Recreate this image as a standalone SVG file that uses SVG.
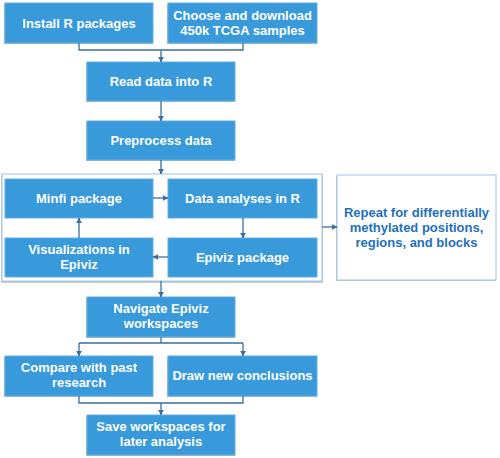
<svg xmlns="http://www.w3.org/2000/svg" width="500" height="458" viewBox="0 0 500 458">
<defs>
<marker id="ah" viewBox="0 0 10 10" refX="9" refY="5" markerWidth="6" markerHeight="6" markerUnits="userSpaceOnUse" orient="auto"><path d="M0,0 L10,5 L0,10 z" fill="#3a6f9e"/></marker>
</defs>
<style>
.box{fill:#3899db;stroke:#62aee3;stroke-width:1}
.sh{fill:#b8bcc0}
.t{font-family:"Liberation Sans",Arial,sans-serif;font-weight:bold;font-size:13px;fill:#ffffff;text-anchor:middle}
.tb{font-family:"Liberation Sans",Arial,sans-serif;font-weight:bold;font-size:13px;fill:#1f70c1;text-anchor:middle}
.c{fill:none;stroke:#3a6f9e;stroke-width:1.3}
.cm{fill:none;stroke:#3a6f9e;stroke-width:1.3;marker-end:url(#ah)}
</style>
<rect width="500" height="458" fill="#ffffff"/>
<g id="container">
<rect x="1" y="175" width="322" height="108" fill="#c8ccd0"/>
<rect x="2" y="174" width="320" height="107" fill="#ffffff" stroke="#9dc3e6" stroke-width="1"/>
</g>
<g id="n1"><rect class="sh" x="4" y="4" width="149" height="40"/><rect class="box" x="5" y="3" width="148" height="40"/><text class="t" x="79" y="27.5">Install R packages</text></g>
<g id="n2"><rect class="sh" x="167" y="4" width="150" height="40"/><rect class="box" x="168" y="3" width="149" height="40"/><text class="t" x="242.5" y="20">Choose and download</text><text class="t" x="242.5" y="35">450k TCGA samples</text></g>
<g id="n3"><rect class="sh" x="86" y="63" width="149" height="39"/><rect class="box" x="87" y="62" width="148" height="39"/><text class="t" x="161" y="86">Read data into R</text></g>
<g id="n4"><rect class="sh" x="86" y="122" width="149" height="39"/><rect class="box" x="87" y="121" width="148" height="39"/><text class="t" x="161" y="145">Preprocess data</text></g>
<g id="n5"><rect class="box" x="5" y="179" width="148" height="39"/><text class="t" x="79" y="202.5">Minfi package</text></g>
<g id="n6"><rect class="box" x="168" y="179" width="149" height="39"/><text class="t" x="242.5" y="202.5">Data analyses in R</text></g>
<g id="n7"><rect class="box" x="5" y="238" width="148" height="39"/><text class="t" x="79" y="254">Visualizations in</text><text class="t" x="79" y="269">Epiviz</text></g>
<g id="n8"><rect class="box" x="168" y="238" width="149" height="39"/><text class="t" x="242.5" y="261.5">Epiviz package</text></g>
<g id="n9"><rect x="336" y="176" width="160" height="105" fill="#c8ccd0"/><rect x="337" y="175" width="159" height="105" fill="#ffffff" stroke="#9dc3e6" stroke-width="1"/><text class="tb" x="416.5" y="217">Repeat for differentially</text><text class="tb" x="416.5" y="232">methylated positions,</text><text class="tb" x="416.5" y="247">regions, and blocks</text></g>
<g id="n10"><rect class="sh" x="86" y="298" width="149" height="40"/><rect class="box" x="87" y="297" width="148" height="40"/><text class="t" x="161" y="313">Navigate Epiviz</text><text class="t" x="161" y="328">workspaces</text></g>
<g id="n11"><rect class="sh" x="4" y="357" width="149" height="40"/><rect class="box" x="5" y="356" width="148" height="40"/><text class="t" x="79" y="372">Compare with past</text><text class="t" x="79" y="387">research</text></g>
<g id="n12"><rect class="sh" x="167" y="357" width="150" height="40"/><rect class="box" x="168" y="356" width="149" height="40"/><text class="t" x="242.5" y="380">Draw new conclusions</text></g>
<g id="n13"><rect class="sh" x="86" y="416" width="149" height="40"/><rect class="box" x="87" y="415" width="148" height="40"/><text class="t" x="161" y="431">Save workspaces for</text><text class="t" x="161" y="446">later analysis</text></g>
<g id="connectors">
<path class="c" d="M79,43 V50 H243 V43"/>
<path class="cm" d="M161,50 V62"/>
<path class="cm" d="M161,101 V121"/>
<path class="cm" d="M161,160 V174"/>
<path class="cm" d="M153,198 H168"/>
<path class="cm" d="M243,218 V238"/>
<path class="cm" d="M168,257 H153"/>
<path class="cm" d="M79,238 V218"/>
<path class="cm" d="M322,227 H337"/>
<path class="cm" d="M161,281 V297"/>
<path class="c" d="M161,337 V343"/>
<path class="cm" d="M79,343 H243 M79,343 V356"/>
<path class="cm" d="M243,343 V356"/>
<path class="c" d="M79,396 V403 H243 V396"/>
<path class="cm" d="M161,403 V415"/>
</g>
</svg>
